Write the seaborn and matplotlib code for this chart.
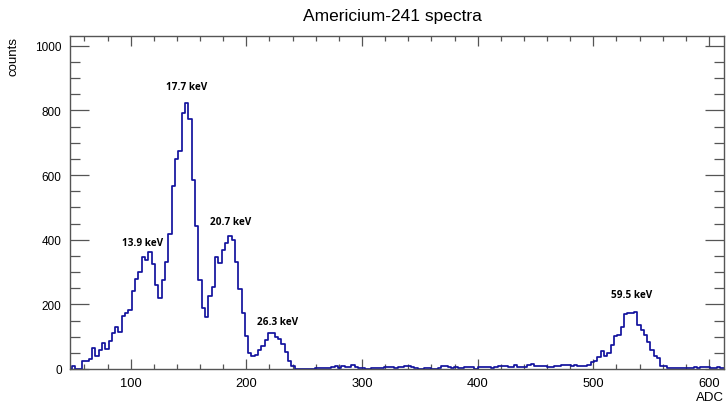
import numpy as np
import pandas as pd
import matplotlib
matplotlib.use("Agg")
import matplotlib.pyplot as plt
from matplotlib.ticker import MultipleLocator
import seaborn as sns

# Histogram binning (ADC channels)
bin_start = 46.3
bin_width = 2.875

# Counts per bin
counts = [
    0, 8, 0, 0, 24, 24, 31, 65, 41, 60,
    80, 62, 86, 111, 129, 115, 163, 173, 184, 240,
    278, 299, 346, 338, 362, 325, 260, 220, 276, 331,
    418, 565, 649, 673, 793, 824, 773, 585, 441, 276,
    189, 161, 225, 253, 347, 328, 368, 390, 412, 398,
    332, 246, 173, 101, 50, 39, 44, 58, 70, 89,
    110, 110, 100, 93, 77, 52, 26, 10, 0, 0,
    0, 0, 0, 0, 2, 3, 3, 3, 3, 5,
    10, 3, 8, 5, 5, 12, 7, 3, 3, 0,
    0, 3, 3, 3, 4, 5, 5, 6, 4, 5,
    7, 8, 8, 7, 2, 0, 0, 2, 2, 0,
    0, 3, 8, 8, 7, 2, 7, 3, 3, 5,
    5, 7, 0, 7, 5, 5, 5, 2, 7, 8,
    10, 10, 7, 5, 12, 5, 7, 7, 12, 14,
    8, 8, 8, 8, 7, 7, 10, 10, 13, 12,
    13, 8, 13, 10, 8, 10, 13, 21, 24, 36,
    57, 39, 48, 74, 101, 105, 129, 170, 172, 173,
    177, 137, 122, 105, 85, 59, 39, 34, 8, 8,
    4, 4, 4, 4, 4, 4, 4, 4, 5, 4,
    7, 5, 7, 4, 4, 5, 4, 4,
]

# Peak annotations
peak_labels = ["13.9 keV", "17.7 keV", "20.7 keV", "26.3 keV", "59.5 keV"]
label_pos = [(110, 390), (148, 875), (186, 455), (227, 148), (533, 230)]

edges = bin_start + bin_width * np.arange(len(counts) + 1)
centers = 0.5 * (edges[:-1] + edges[1:])
spectrum = pd.DataFrame({"adc": centers, "counts": counts})

sns.set_style("ticks")
plt.rcParams["font.family"] = ["Liberation Sans", "DejaVu Sans"]
plt.rcParams["text.color"] = "black"
plt.rcParams["axes.labelcolor"] = "black"

fig = plt.figure(figsize=(7.27, 4.06), dpi=100)
ax = fig.add_axes([70 / 727, 1 - 370 / 406, 654 / 727, 333 / 406])

sns.histplot(data=spectrum, x="adc", weights="counts", bins=list(edges),
             element="step", fill=False, color="#12129e", linewidth=1.25,
             ax=ax)

ax.set_xlim(47.5, 613.0)
ax.set_ylim(0, 1030)

ax.xaxis.set_major_locator(MultipleLocator(100))
ax.xaxis.set_minor_locator(MultipleLocator(20))
ax.yaxis.set_major_locator(MultipleLocator(200))
ax.yaxis.set_minor_locator(MultipleLocator(50))

frame_col = "#555555"
for s in ax.spines.values():
    s.set_color(frame_col)
    s.set_linewidth(1.0)

ax.tick_params(axis="both", which="both", direction="in", colors=frame_col,
               labelcolor="black", width=0.9, top=True, right=True)
ax.tick_params(axis="x", which="major", length=7.2, pad=5.5, labelsize=9.3)
ax.tick_params(axis="x", which="minor", length=3.6)
ax.tick_params(axis="y", which="major", length=14, pad=6, labelsize=8.5)
ax.tick_params(axis="y", which="minor", length=7)

ax.set_xlabel("ADC", loc="right", fontsize=9.5, color="black")
ax.xaxis.label.set_verticalalignment("center")
ax.xaxis.set_label_coords(1.0, -(398 - 370) / 333)
ax.set_ylabel("counts", loc="top", fontsize=9.5, color="black")
ax.yaxis.set_label_coords(-0.077, 1.0)

for text, (x, y) in zip(peak_labels, label_pos):
    ax.text(x, y, text, ha="center", va="center", fontsize=7.2,
            fontweight="bold", family=["Open Sans", "DejaVu Sans"],
            color="black")

fig.text(392 / 727, 1 - 17 / 406, "Americium-241 spectra", ha="center",
         va="center", fontsize=12.5, color="black")

fig.savefig("out.png", dpi=100, facecolor="white")
